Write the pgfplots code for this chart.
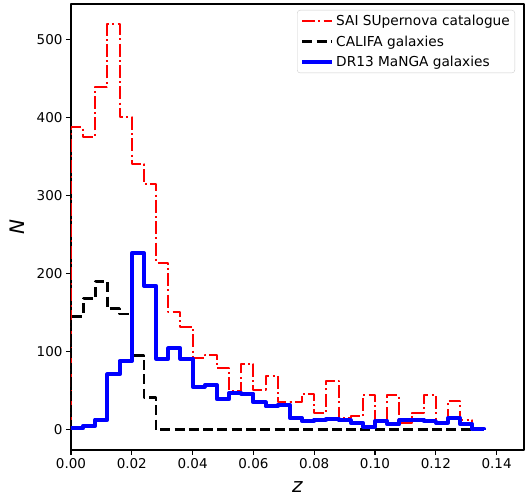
\documentclass[border=0pt]{standalone}
\usepackage{fontspec}
\setmainfont{DejaVu Sans}
\usepackage{pgfplots}
\pgfplotsset{compat=1.18}
\begin{document}
\begin{tikzpicture}
\begin{axis}[
  scale only axis, width=453pt, height=446pt,
  xmin=0, xmax=0.149, ymin=-25.95, ymax=544.95,
  xtick={0,0.02,0.04,0.06,0.08,0.10,0.12,0.14},
  ytick={0,100,200,300,400,500},
  xticklabel style={/pgf/number format/fixed,/pgf/number format/fixed zerofill,/pgf/number format/precision=2},
  scaled x ticks=false,
  tick align=outside, xtick pos=bottom, ytick pos=left,
  major tick length=5pt,
  every tick/.style={black, line width=1.1pt},
  axis line style={line width=1.1pt},
  tick label style={font=\fontsize{13.5}{16}\selectfont},
  /pgf/number format/assume math mode=true,
  xlabel={\textit{z}}, ylabel={\textit{N}},
  every axis x label/.style={at={(axis description cs:0.5,0)}, anchor=base, yshift=-43pt, font=\fontsize{20}{24}\selectfont},
  every axis y label/.style={at={([xshift=-46pt]axis description cs:0,0.5)}, anchor=base, rotate=90, font=\fontsize{20}{24}\selectfont},
  legend image code/.code={\draw[#1] (0pt,0pt) -- (30pt,0pt);},
  legend style={at={(axis description cs:1,1)}, anchor=north east, xshift=-9pt, yshift=-6pt,
    draw=black!20, rounded corners=3pt, fill=white, font=\fontsize{13.7}{16}\selectfont,
    inner xsep=3pt, inner ysep=3pt, row sep=4.5pt, cells={anchor=west}},
  line join=round,
]
\addplot[const plot, red, line width=2pt, dash pattern=on 13pt off 3.2pt on 2pt off 3.2pt] coordinates {
(0,0) (0,387) (0.004,375) (0.008,439) (0.012,519) (0.016,400) (0.020,340) (0.024,314) (0.028,214) (0.032,151) (0.036,132) (0.040,92) (0.044,96) (0.048,79) (0.052,50) (0.056,84) (0.060,51) (0.064,69) (0.068,36) (0.072,36) (0.076,46) (0.080,22) (0.084,63) (0.088,15) (0.092,17) (0.096,44) (0.100,13) (0.104,44) (0.108,9) (0.112,22) (0.116,44) (0.120,7) (0.124,37) (0.128,12) (0.132,0)
};
\addlegendentry{SAI SUpernova catalogue}
\addplot[const plot, black, line width=2.7pt, dash pattern=on 10pt off 4.3pt] coordinates {
(0,0) (0,145) (0.004,168) (0.008,190) (0.012,155) (0.016,148) (0.020,95) (0.024,41) (0.028,0) (0.132,0)
};
\addlegendentry{CALIFA galaxies}
\addplot[const plot, blue, line width=4pt] coordinates {
(0,0) (0,2) (0.004,5) (0.008,13) (0.012,71) (0.016,88) (0.020,226) (0.024,184) (0.028,91) (0.032,104) (0.036,91) (0.040,55) (0.044,57) (0.048,39) (0.052,47) (0.056,46) (0.060,35) (0.064,30) (0.068,32) (0.072,15) (0.076,11) (0.080,13) (0.084,14) (0.088,12) (0.092,9) (0.096,4) (0.100,11) (0.104,7) (0.108,12) (0.112,13) (0.116,11) (0.120,9) (0.124,15) (0.128,7) (0.132,1) (0.136,0)
};
\addlegendentry{DR13 MaNGA galaxies}
\end{axis}
\pgfresetboundingbox
\useasboundingbox (-71pt,-50pt) rectangle (454pt,450pt);
\end{tikzpicture}
\end{document}
